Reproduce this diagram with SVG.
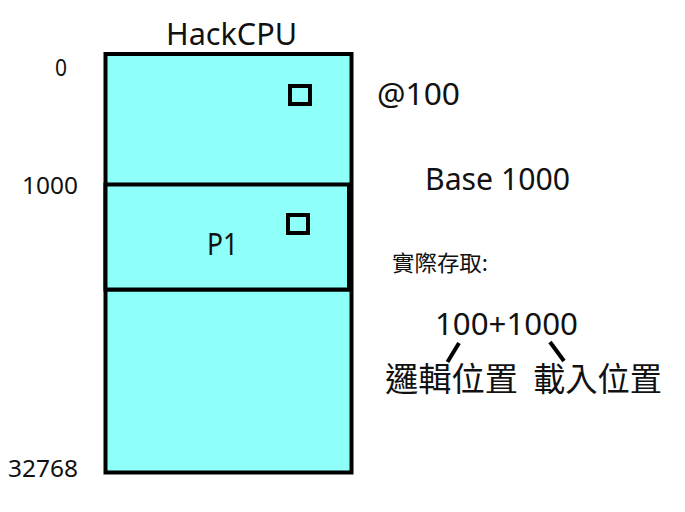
<svg xmlns="http://www.w3.org/2000/svg" width="685" height="512" viewBox="0 0 685 512">
<style>
text{font-family:"Noto Sans","Open Sans","Noto Sans CJK TC",sans-serif;fill:#111}
.cjk{font-family:"Noto Sans CJK TC","Noto Sans",sans-serif}
.mem{fill:#8ffff9;stroke:#000;stroke-width:4}
.sq{fill:none;stroke:#000;stroke-width:4}
.conn{stroke:#000;stroke-width:4;stroke-linecap:butt}
</style>
<rect width="685" height="512" fill="#fff"/>
<g id="memory">
<rect class="mem" x="105.5" y="54" width="246" height="418.5"/>
<line class="conn" x1="105.5" y1="289.5" x2="351.5" y2="289.5"/>
</g>
<g id="p1">
<rect class="mem" x="105.5" y="184.5" width="243.5" height="105"/>
<text x="207" y="255" font-size="30" textLength="31" lengthAdjust="spacingAndGlyphs">P1</text>
</g>
<g id="sq1"><rect class="sq" x="290" y="86" width="20" height="18"/></g>
<g id="sq2"><rect class="sq" x="288" y="215" width="20" height="18"/></g>
<g id="labels">
<text x="166" y="45" font-size="30" textLength="131" lengthAdjust="spacingAndGlyphs">HackCPU</text>
<text x="55" y="76" font-size="24" textLength="12" lengthAdjust="spacingAndGlyphs">0</text>
<text x="22" y="194" font-size="24" textLength="56" lengthAdjust="spacingAndGlyphs">1000</text>
<text x="8" y="477" font-size="24" textLength="70" lengthAdjust="spacingAndGlyphs">32768</text>
<text x="377" y="105" font-size="30" textLength="83" lengthAdjust="spacingAndGlyphs">@100</text>
<text x="425" y="190" font-size="30" textLength="145" lengthAdjust="spacingAndGlyphs">Base 1000</text>
<text class="cjk" x="392" y="271" font-size="22" textLength="96" lengthAdjust="spacingAndGlyphs">實際存取:</text>
<text x="435" y="335" font-size="30" textLength="143" lengthAdjust="spacingAndGlyphs">100+1000</text>
<text class="cjk" x="385" y="391" font-size="33" textLength="133" lengthAdjust="spacingAndGlyphs">邏輯位置</text>
<text class="cjk" x="533" y="391" font-size="33" textLength="129" lengthAdjust="spacingAndGlyphs">載入位置</text>
</g>
<g id="connectors">
<line class="conn" x1="459" y1="343" x2="447.5" y2="362"/>
<line class="conn" x1="550" y1="342" x2="564" y2="361"/>
</g>
</svg>
